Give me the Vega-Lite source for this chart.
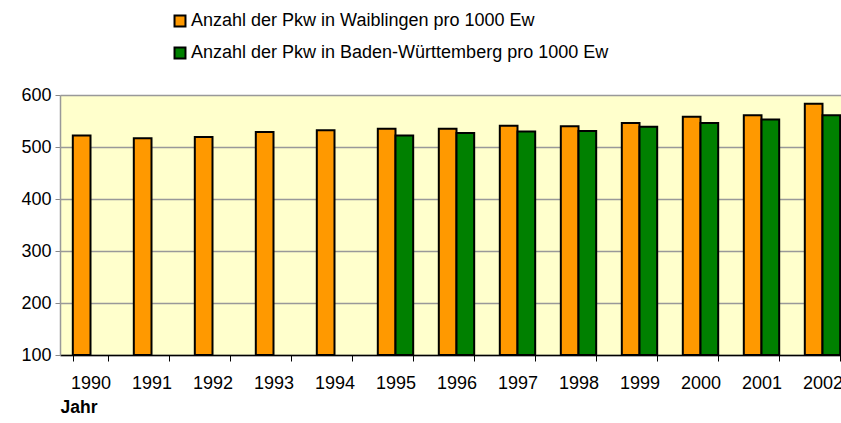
{
  "$schema": "https://vega.github.io/schema/vega-lite/v6.json",
  "width": 781,
  "height": 260,
  "autosize": {"type": "none"},
  "padding": {"left": 60, "top": 95, "right": 0, "bottom": 68},
  "background": "white",
  "config": {
    "view": {"fill": "#FFFFCC", "stroke": null},
    "font": "Liberation Sans"
  },
  "data": {
    "values": [
      {"Jahr": "1990", "Serie": "Anzahl der Pkw in Waiblingen pro 1000 Ew", "Wert": 522},
      {"Jahr": "1991", "Serie": "Anzahl der Pkw in Waiblingen pro 1000 Ew", "Wert": 517},
      {"Jahr": "1992", "Serie": "Anzahl der Pkw in Waiblingen pro 1000 Ew", "Wert": 519},
      {"Jahr": "1993", "Serie": "Anzahl der Pkw in Waiblingen pro 1000 Ew", "Wert": 529},
      {"Jahr": "1994", "Serie": "Anzahl der Pkw in Waiblingen pro 1000 Ew", "Wert": 532},
      {"Jahr": "1995", "Serie": "Anzahl der Pkw in Waiblingen pro 1000 Ew", "Wert": 535},
      {"Jahr": "1996", "Serie": "Anzahl der Pkw in Waiblingen pro 1000 Ew", "Wert": 535},
      {"Jahr": "1997", "Serie": "Anzahl der Pkw in Waiblingen pro 1000 Ew", "Wert": 541},
      {"Jahr": "1998", "Serie": "Anzahl der Pkw in Waiblingen pro 1000 Ew", "Wert": 540},
      {"Jahr": "1999", "Serie": "Anzahl der Pkw in Waiblingen pro 1000 Ew", "Wert": 546},
      {"Jahr": "2000", "Serie": "Anzahl der Pkw in Waiblingen pro 1000 Ew", "Wert": 558},
      {"Jahr": "2001", "Serie": "Anzahl der Pkw in Waiblingen pro 1000 Ew", "Wert": 561},
      {"Jahr": "2002", "Serie": "Anzahl der Pkw in Waiblingen pro 1000 Ew", "Wert": 583},
      {"Jahr": "1995", "Serie": "Anzahl der Pkw in Baden-Württemberg pro 1000 Ew", "Wert": 522},
      {"Jahr": "1996", "Serie": "Anzahl der Pkw in Baden-Württemberg pro 1000 Ew", "Wert": 527},
      {"Jahr": "1997", "Serie": "Anzahl der Pkw in Baden-Württemberg pro 1000 Ew", "Wert": 530},
      {"Jahr": "1998", "Serie": "Anzahl der Pkw in Baden-Württemberg pro 1000 Ew", "Wert": 531},
      {"Jahr": "1999", "Serie": "Anzahl der Pkw in Baden-Württemberg pro 1000 Ew", "Wert": 539},
      {"Jahr": "2000", "Serie": "Anzahl der Pkw in Baden-Württemberg pro 1000 Ew", "Wert": 546},
      {"Jahr": "2001", "Serie": "Anzahl der Pkw in Baden-Württemberg pro 1000 Ew", "Wert": 553},
      {"Jahr": "2002", "Serie": "Anzahl der Pkw in Baden-Württemberg pro 1000 Ew", "Wert": 561}
    ]
  },
  "mark": {"type": "bar", "stroke": "black", "strokeWidth": 2},
  "encoding": {
    "x": {
      "field": "Jahr",
      "type": "ordinal",
      "scale": {"paddingInner": 0.42, "paddingOuter": 0.21, "range": [0, 793]},
      "axis": {
        "title": "Jahr",
        "titleFontWeight": "bold",
        "titleFontSize": 17.5,
        "titleColor": "black",
        "titleAnchor": "start",
        "titleAlign": "left",
        "titlePadding": 6,
        "labelAngle": 0,
        "labelFontSize": 18,
        "labelColor": "black",
        "labelPadding": 13,
        "tickBand": "extent",
        "tickColor": "black",
        "tickSize": 6,
        "domainColor": "black",
        "domainWidth": 1.5,
        "grid": false
      }
    },
    "y": {
      "field": "Wert",
      "type": "quantitative",
      "scale": {"domain": [100, 600], "zero": false, "nice": false},
      "axis": {
        "title": null,
        "values": [100, 200, 300, 400, 500, 600],
        "labelFontSize": 18,
        "labelColor": "black",
        "labelPadding": 4,
        "tickColor": "#888",
        "tickSize": 5,
        "domainColor": "#999",
        "domainWidth": 1.5,
        "gridColor": "#999",
        "gridWidth": 1.5
      }
    },
    "y2": {"datum": 100},
    "xOffset": {
      "field": "Serie",
      "scale": {"domain": ["Anzahl der Pkw in Waiblingen pro 1000 Ew", "Anzahl der Pkw in Baden-Württemberg pro 1000 Ew"], "paddingInner": 0, "paddingOuter": 0}
    },
    "color": {
      "field": "Serie",
      "type": "nominal",
      "scale": {
        "domain": ["Anzahl der Pkw in Waiblingen pro 1000 Ew", "Anzahl der Pkw in Baden-Württemberg pro 1000 Ew"],
        "range": ["#FF9900", "#008000"]
      },
      "legend": {
        "title": null,
        "orient": "none",
        "legendX": 111,
        "legendY": -83,
        "symbolType": "square",
        "symbolSize": 120,
        "symbolStrokeColor": "black",
        "symbolStrokeWidth": 2,
        "labelFontSize": 18,
        "labelColor": "black",
        "labelOffset": 2,
        "labelLimit": 600,
        "rowPadding": 12
      }
    }
  }
}
